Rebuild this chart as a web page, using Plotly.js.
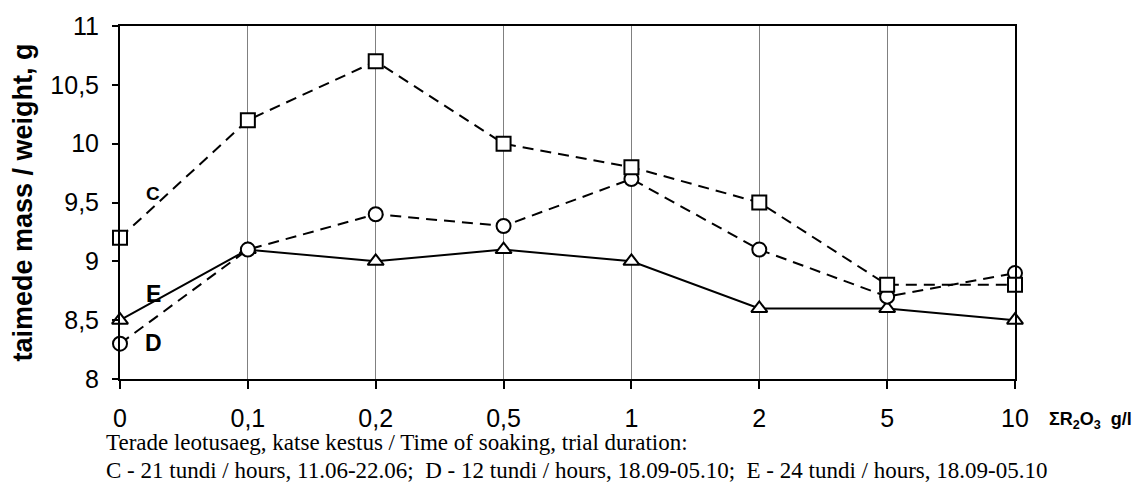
<!DOCTYPE html>
<html><head><meta charset="utf-8">
<script src="https://cdn.plot.ly/plotly-3.0.1.min.js"></script>
<style>body{margin:0;background:#fff}#chart{width:1146px;height:484px}</style>
</head><body><div id="chart"></div>
<script>
const categories = ["0","0,1","0,2","0,5","1","2","5","10"];
const seriesC = [9.2, 10.2, 10.7, 10.0, 9.8, 9.5, 8.8, 8.8];
const seriesD = [8.3, 9.1, 9.4, 9.3, 9.7, 9.1, 8.7, 8.9];
const seriesE = [8.5, 9.1, 9.0, 9.1, 9.0, 8.6, 8.6, 8.5];
const yTickVals = [8, 8.5, 9, 9.5, 10, 10.5, 11];
const yTickText = ["8","8,5","9","9,5","10","10,5","11"];

const SANS = 'Liberation Sans, Arial, sans-serif';
const SERIF = 'Liberation Serif, Times New Roman, serif';
const xIdx = categories.map((c,i)=>i);
function tr(y, sym, dash){
  return {x:xIdx, y:y, type:'scatter', mode:'lines+markers',
    line:{color:'#000', width:2, dash:dash},
    marker:{symbol:sym, size:14, color:'#fff', line:{color:'#000', width:2}},
    hoverinfo:'skip', showlegend:false, cliponaxis:false};
}
const data = [
  tr(seriesE, 'triangle-up', 'solid'),
  tr(seriesD, 'circle', '11px,7px'),
  tr(seriesC, 'square', '11px,7px')
];

const pw = 1146-120-131, ph = 484-26-105;
function px(xp){return (xp-120)/pw;}
function py(yp){return (484-105-yp)/ph;}

const layout = {
  width:1146, height:484,
  margin:{l:120, r:131, t:26, b:105},
  paper_bgcolor:'#fff', plot_bgcolor:'#fff',
  font:{family:SANS, color:'#000'},
  xaxis:{range:[0,7], tickvals:xIdx, ticktext:categories, showgrid:true, gridcolor:'#808080', gridwidth:1,
    zeroline:false, showline:true, linecolor:'#000', linewidth:2, mirror:true,
    ticks:'outside', ticklen:8, tickwidth:2, tickcolor:'#000', ticklabelstandoff:8,
    tickfont:{size:25, family:SANS}},
  yaxis:{range:[8,11], tickvals:yTickVals, ticktext:yTickText, showgrid:false, zeroline:false,
    showline:true, linecolor:'#000', linewidth:2, mirror:true,
    ticks:'outside', ticklen:6, tickwidth:2, tickcolor:'#000', ticklabelstandoff:8,
    tickfont:{size:25, family:SANS},
    title:{text:'<b>taimede mass / weight, g</b>', font:{size:27, family:SANS}, standoff:10}},
  annotations:[
    {x:0.26, y:9.58, xref:'x', yref:'y', text:'<b>C</b>', showarrow:false, font:{size:19}},
    {x:0.26, y:8.72, xref:'x', yref:'y', text:'<b>E</b>', showarrow:false, font:{size:23}},
    {x:0.26, y:8.31, xref:'x', yref:'y', text:'<b>D</b>', showarrow:false, font:{size:23}},
    {x:px(1047), y:py(420), xref:'paper', yref:'paper', text:'<b>ΣR<sub>2</sub>O<sub>3</sub>  g/l</b>', showarrow:false, font:{size:18}, xanchor:'left', yanchor:'middle'},
    {x:px(104), y:py(442), xref:'paper', yref:'paper', text:'Terade leotusaeg, katse kestus / Time of soaking, trial duration:', showarrow:false, font:{size:23, family:SERIF}, xanchor:'left', yanchor:'middle'},
    {x:px(104), y:py(470), xref:'paper', yref:'paper', text:'C - 21 tundi / hours, 11.06-22.06;&nbsp; D - 12 tundi / hours, 18.09-05.10;&nbsp; E - 24 tundi / hours, 18.09-05.10', showarrow:false, font:{size:23, family:SERIF}, xanchor:'left', yanchor:'middle'}
  ]
};
Plotly.newPlot('chart', data, layout, {displayModeBar:false, staticPlot:true});
</script></body></html>
